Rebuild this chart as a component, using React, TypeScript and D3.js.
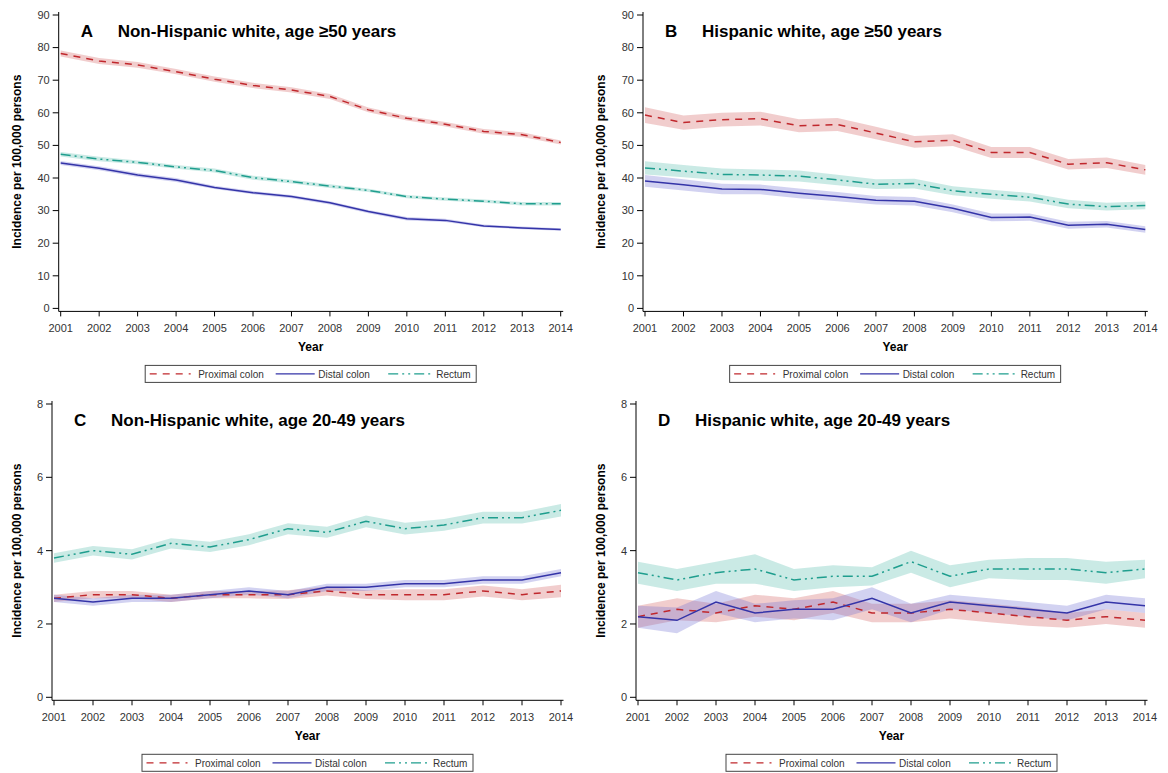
import React from 'react';
import * as d3 from 'd3';

const years = [2001, 2002, 2003, 2004, 2005, 2006, 2007, 2008, 2009, 2010, 2011, 2012, 2013, 2014];
const seriesNames = ['Proximal colon', 'Distal colon', 'Rectum'];
const ticksOlder = [0, 10, 20, 30, 40, 50, 60, 70, 80, 90];
const ticksYounger = [0, 2, 4, 6, 8];

// A: Non-Hispanic white, age >=50
const aProximal = [78.2, 75.9, 74.7, 72.6, 70.3, 68.4, 67.0, 65.0, 60.9, 58.3, 56.5, 54.3, 53.3, 50.9];
const aDistal = [44.6, 43.0, 40.9, 39.4, 37.1, 35.5, 34.3, 32.4, 29.7, 27.5, 27.0, 25.3, 24.7, 24.2];
const aRectum = [47.3, 45.8, 44.8, 43.4, 42.3, 40.1, 38.9, 37.5, 36.2, 34.3, 33.5, 32.9, 32.1, 32.1];
const aProximalCi = [0.9, 0.9, 0.9, 0.8, 0.8, 0.8, 0.8, 0.8, 0.7, 0.7, 0.7, 0.7, 0.7, 0.6];
const aDistalCi = [0.6, 0.6, 0.6, 0.6, 0.5, 0.5, 0.5, 0.5, 0.5, 0.5, 0.5, 0.4, 0.4, 0.4];
const aRectumCi = [0.7, 0.7, 0.6, 0.6, 0.6, 0.6, 0.6, 0.6, 0.5, 0.5, 0.5, 0.5, 0.5, 0.5];

// B: Hispanic white, age >=50
const bProximal = [59.3, 57.0, 57.9, 58.2, 56.0, 56.4, 53.8, 51.1, 51.6, 47.8, 47.8, 44.2, 44.7, 42.5];
const bDistal = [39.1, 37.9, 36.6, 36.5, 35.3, 34.3, 33.2, 32.9, 30.7, 27.9, 28.0, 25.5, 25.8, 24.2];
const bRectum = [43.1, 42.1, 41.1, 40.9, 40.6, 39.4, 38.1, 38.3, 36.1, 35.0, 34.1, 32.0, 31.2, 31.6];
const bProximalCi = [2.4, 2.2, 2.1, 2.1, 2.0, 2.0, 1.9, 1.8, 1.8, 1.7, 1.7, 1.6, 1.6, 1.5];
const bDistalCi = [1.8, 1.7, 1.6, 1.5, 1.5, 1.4, 1.3, 1.3, 1.2, 1.2, 1.1, 1.1, 1.0, 1.0];
const bRectumCi = [2.0, 1.9, 1.8, 1.7, 1.7, 1.6, 1.5, 1.5, 1.4, 1.4, 1.3, 1.3, 1.2, 1.2];

// C: Non-Hispanic white, age 20-49
const cProximal = [2.7, 2.8, 2.8, 2.7, 2.8, 2.8, 2.8, 2.9, 2.8, 2.8, 2.8, 2.9, 2.8, 2.9];
const cDistal = [2.7, 2.6, 2.7, 2.7, 2.8, 2.9, 2.8, 3.0, 3.0, 3.1, 3.1, 3.2, 3.2, 3.4];
const cRectum = [3.8, 4.0, 3.9, 4.2, 4.1, 4.3, 4.6, 4.5, 4.8, 4.6, 4.7, 4.9, 4.9, 5.1];
const cProximalCi = [0.1, 0.1, 0.1, 0.1, 0.1, 0.1, 0.12, 0.12, 0.12, 0.15, 0.15, 0.15, 0.15, 0.17];
const cDistalCi = [0.1, 0.1, 0.1, 0.1, 0.1, 0.1, 0.1, 0.1, 0.1, 0.1, 0.1, 0.1, 0.1, 0.1];
const cRectumCi = [0.13, 0.13, 0.14, 0.14, 0.14, 0.15, 0.15, 0.15, 0.16, 0.16, 0.16, 0.16, 0.16, 0.17];

// D: Hispanic white, age 20-49
const dProximal = [2.2, 2.4, 2.3, 2.5, 2.4, 2.6, 2.3, 2.3, 2.4, 2.3, 2.2, 2.1, 2.2, 2.1];
const dDistal = [2.2, 2.1, 2.6, 2.3, 2.4, 2.4, 2.7, 2.3, 2.6, 2.5, 2.4, 2.3, 2.6, 2.5];
const dRectum = [3.4, 3.2, 3.4, 3.5, 3.2, 3.3, 3.3, 3.7, 3.3, 3.5, 3.5, 3.5, 3.4, 3.5];
const dProximalCi = [0.3, 0.3, 0.25, 0.3, 0.3, 0.3, 0.25, 0.25, 0.25, 0.25, 0.25, 0.2, 0.2, 0.2];
const dDistalCi = [0.3, 0.35, 0.3, 0.25, 0.25, 0.3, 0.3, 0.25, 0.2, 0.2, 0.2, 0.2, 0.2, 0.2];
const dRectumCi = [0.3, 0.3, 0.3, 0.4, 0.3, 0.3, 0.25, 0.3, 0.3, 0.25, 0.3, 0.3, 0.3, 0.25];

const lineColors = ['#c0282d', '#3434a8', '#1f9e8e'];
const bandColors = ['#cf5a5a', '#6a6ad0', '#50b8a8'];
const dashes = ['7,6', '', '10,4,2,4,2,4'];
const FONT = '"Liberation Sans", Arial, sans-serif';

type PanelProps = {
  letter: string;
  title: string;
  xr: [number, number];
  yr: [number, number];
  yMax: number;
  yTicks: number[];
  yTitleX: number;
  values: number[][];
  cis: number[][];
};

function Panel({ letter, title, xr, yr, yMax, yTicks, yTitleX, values, cis }: PanelProps) {
  const x = d3.scaleLinear().domain([2001, 2014]).range(xr);
  const y = d3.scaleLinear().domain([0, yMax]).range(yr);
  const axisX = xr[0] - 2;
  const axisY = yr[0] + 3;
  const mid = (xr[0] + xr[1]) / 2;

  const line = d3.line<number>().x((_, i) => x(years[i])).y(d => y(d));
  const area = (v: number[], c: number[]) =>
    d3.area<number>()
      .x((_, i) => x(years[i]))
      .y0((d, i) => y(d - c[i]))
      .y1((d, i) => y(d + c[i]))(v) || '';

  const legW = 331;
  const legX = mid - legW / 2;
  const legY = yr[0] + 57;

  return (
    <g fontFamily={FONT}>
      {values.map((v, k) => (
        <path key={'b' + k} d={area(v, cis[k])} fill={bandColors[k]} fillOpacity={0.3} stroke="none" />
      ))}
      {values.map((v, k) => (
        <path key={'l' + k} d={line(v) || ''} fill="none" stroke={lineColors[k]} strokeWidth={1.5}
          strokeDasharray={dashes[k] || undefined} />
      ))}
      <line x1={axisX} x2={axisX} y1={yr[1] - 3} y2={axisY} stroke="#000" />
      <line x1={axisX} x2={xr[1] + 2.5} y1={axisY} y2={axisY} stroke="#000" />
      {yTicks.map(t => (
        <g key={t}>
          <line x1={axisX - 6} x2={axisX} y1={y(t)} y2={y(t)} stroke="#000" />
          <text x={axisX - 9} y={y(t)} dy="0.35em" textAnchor="end" fontSize={11} fill="#333">{t}</text>
        </g>
      ))}
      {years.map(yr0 => (
        <g key={yr0}>
          <line x1={x(yr0)} x2={x(yr0)} y1={axisY} y2={axisY + 5} stroke="#000" />
          <text x={x(yr0)} y={axisY + 21} textAnchor="middle" fontSize={11} fill="#333">{yr0}</text>
        </g>
      ))}
      <text x={mid} y={yr[0] + 43} textAnchor="middle" fontSize={12} fontWeight="bold">Year</text>
      <text transform={`translate(${yTitleX},${(yr[0] + yr[1]) / 2}) rotate(-90)`} dy="0.35em"
        textAnchor="middle" fontSize={12} fontWeight="bold">Incidence per 100,000 persons</text>
      <text x={axisX + 22} y={yr[1] + 22} fontSize={17} fontWeight="bold">{letter}</text>
      <text x={axisX + 59} y={yr[1] + 22} fontSize={17} fontWeight="bold">{title}</text>
      <rect x={legX} y={legY} width={legW} height={17} fill="#fff" stroke="#444" />
      {[
        { lx: 4.5, len: 41, tx: 53 },
        { lx: 130.5, len: 39, tx: 173 },
        { lx: 243, len: 43, tx: 291 },
      ].map((p, k) => (
        <g key={k}>
          <line x1={legX + p.lx} x2={legX + p.lx + p.len} y1={legY + 8.5} y2={legY + 8.5}
            stroke={lineColors[k]} strokeWidth={1.3} strokeDasharray={dashes[k] || undefined} />
          <text x={legX + p.tx} y={legY + 12.5} fontSize={10} fill="#333">{seriesNames[k]}</text>
        </g>
      ))}
    </g>
  );
}

export default function App() {
  return (
    <svg width={1168} height={773} style={{ position: 'absolute', left: 0, top: 0, background: '#fff' }}>
      <rect width={1168} height={773} fill="#fff" />
      <Panel letter="A" title="Non-Hispanic white, age ≥50 years" xr={[60.7, 560.7]} yr={[308.4, 15]}
        yMax={90} yTicks={ticksOlder} yTitleX={17}
        values={[aProximal, aDistal, aRectum]} cis={[aProximalCi, aDistalCi, aRectumCi]} />
      <Panel letter="B" title="Hispanic white, age ≥50 years" xr={[645, 1145.3]} yr={[308.4, 15]}
        yMax={90} yTicks={ticksOlder} yTitleX={601}
        values={[bProximal, bDistal, bRectum]} cis={[bProximalCi, bDistalCi, bRectumCi]} />
      <Panel letter="C" title="Non-Hispanic white, age 20-49 years" xr={[54, 561]} yr={[697.3, 404]}
        yMax={8} yTicks={ticksYounger} yTitleX={17}
        values={[cProximal, cDistal, cRectum]} cis={[cProximalCi, cDistalCi, cRectumCi]} />
      <Panel letter="D" title="Hispanic white, age 20-49 years" xr={[638, 1145]} yr={[697.3, 404]}
        yMax={8} yTicks={ticksYounger} yTitleX={601}
        values={[dProximal, dDistal, dRectum]} cis={[dProximalCi, dDistalCi, dRectumCi]} />
    </svg>
  );
}
